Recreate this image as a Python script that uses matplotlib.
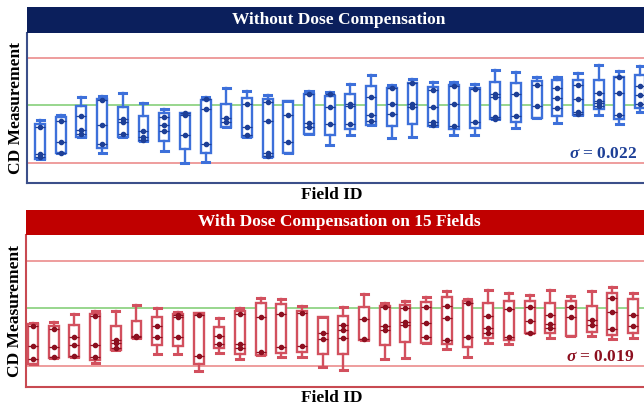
import matplotlib
matplotlib.use("Agg")
import matplotlib.pyplot as plt
import numpy as np

# CD values per field (normalised, target = 1.000)
fields = list(range(1, 31))

top_hi = [0.970, 0.980, 1.016, 1.018, 1.024, 1.004, 0.992, 0.984, 1.016, 1.034, 1.028, 1.020, 1.008, 1.028, 1.026,
          1.042, 1.060, 1.040, 1.052, 1.046, 1.046, 1.042, 1.070, 1.066, 1.056, 1.056, 1.064, 1.080, 1.068, 1.078]
top_q3 = [0.962, 0.976, 0.998, 1.012, 0.996, 0.978, 0.984, 0.984, 1.010, 1.002, 1.014, 1.012, 1.008, 1.022, 1.018,
          1.022, 1.038, 1.034, 1.044, 1.036, 1.040, 1.034, 1.046, 1.044, 1.048, 1.050, 1.050, 1.050, 1.056, 1.060]
top_q1 = [0.892, 0.904, 0.936, 0.914, 0.936, 0.928, 0.928, 0.912, 0.904, 0.956, 0.936, 0.896, 0.904, 0.942, 0.940,
          0.952, 0.960, 0.958, 0.962, 0.958, 0.952, 0.954, 0.972, 0.966, 0.974, 0.978, 0.980, 0.992, 0.972, 0.994]
top_lo = [0.892, 0.904, 0.936, 0.904, 0.936, 0.928, 0.908, 0.884, 0.886, 0.956, 0.936, 0.896, 0.904, 0.942, 0.920,
          0.940, 0.960, 0.934, 0.936, 0.958, 0.940, 0.940, 0.972, 0.954, 0.974, 0.964, 0.980, 0.980, 0.962, 0.986]
top_pts = [
    [0.956, 0.902, 0.896], [0.968, 0.926, 0.904], [0.978, 0.950, 0.942], [1.010, 0.960, 0.922],
    [0.972, 0.966, 0.942], [0.948, 0.936, 0.930], [0.976, 0.960, 0.948], [0.984, 0.980, 0.940],
    [1.012, 0.992, 0.922], [0.974, 0.966], [1.002, 0.956, 0.940], [1.006, 0.968, 0.904, 0.898],
    [0.980, 0.926], [1.022, 0.964, 0.956], [1.022, 0.996, 0.962], [1.002, 0.998, 0.962],
    [1.016, 0.980, 0.968], [1.034, 1.002, 0.982], [1.044, 1.002, 0.996], [1.030, 0.996, 0.966, 0.960],
    [1.038, 1.002, 0.958], [1.032, 0.966], [1.022, 1.016, 0.976, 0.972], [1.022, 0.978],
    [1.040, 0.998], [1.034, 1.014, 0.994], [1.040, 1.012, 0.986, 0.982], [1.024, 1.008, 1.004, 0.998],
    [1.056, 1.024, 0.980], [1.038, 1.020, 1.002],
]

bot_hi = [0.970, 0.972, 0.988, 0.994, 0.994, 1.006, 1.000, 0.992, 0.990, 0.980, 1.000, 1.020, 1.018, 1.004, 0.982,
          1.002, 1.028, 1.010, 1.014, 1.022, 1.034, 1.018, 1.036, 1.030, 1.026, 1.036, 1.024, 1.034, 1.042, 1.030]
bot_q3 = [0.968, 0.964, 0.966, 0.988, 0.964, 0.974, 0.982, 0.988, 0.990, 0.962, 0.994, 1.010, 1.008, 0.994, 0.982,
          0.984, 1.002, 1.004, 1.006, 1.012, 1.022, 1.014, 1.010, 1.014, 1.014, 1.010, 1.014, 1.004, 1.030, 1.018]
bot_q1 = [0.888, 0.900, 0.902, 0.896, 0.916, 0.940, 0.926, 0.924, 0.888, 0.920, 0.908, 0.906, 0.910, 0.912, 0.908,
          0.908, 0.936, 0.926, 0.932, 0.930, 0.928, 0.922, 0.940, 0.936, 0.950, 0.950, 0.944, 0.952, 0.946, 0.950]
bot_lo = [0.888, 0.900, 0.902, 0.890, 0.916, 0.940, 0.908, 0.908, 0.874, 0.910, 0.898, 0.906, 0.902, 0.902, 0.882,
          0.876, 0.936, 0.898, 0.900, 0.930, 0.918, 0.902, 0.930, 0.928, 0.950, 0.940, 0.944, 0.944, 0.938, 0.940]
bot_pts = [
    [0.964, 0.924, 0.898], [0.958, 0.922, 0.902], [0.942, 0.926, 0.904], [0.984, 0.926, 0.902],
    [0.936, 0.930, 0.920], [0.944, 0.942], [0.964, 0.942], [0.986, 0.982, 0.942],
    [0.986, 0.904], [0.944, 0.928], [0.988, 0.928, 0.920], [0.982, 0.912],
    [0.988, 0.922], [0.990, 0.924], [0.950, 0.938], [0.966, 0.956, 0.940],
    [0.978, 0.938], [1.002, 0.964, 0.956], [1.000, 0.972, 0.966], [1.002, 0.970, 0.942],
    [1.004, 0.980, 0.936], [1.010, 0.942], [0.984, 0.960, 0.950], [0.998, 0.942],
    [1.002, 0.974, 0.950], [0.986, 0.968, 0.960], [1.002, 0.982], [0.976, 0.966],
    [1.020, 0.992, 0.958], [0.986, 0.964],
]

target = 1.000
upper_limit = 1.094
lower_limit = 0.884

plt.rcParams['font.family'] = ['Liberation Serif', 'DejaVu Serif']
plt.rcParams['mathtext.fontset'] = 'custom'
plt.rcParams['mathtext.it'] = 'Liberation Serif:italic:bold'

fig = plt.figure(figsize=(6.44, 4.09), dpi=100)
H = 409.0
W = 644.0


def panel(ax_box, bar_box, title, sigma, hi, q3, q1, lo, pts, c_box, c_dot, c_bar, c_frame, xlim, ylim, sig_xy):
    ax = fig.add_axes(ax_box)
    stats = []
    for i in range(len(hi)):
        stats.append(dict(whislo=lo[i], q1=q1[i], med=np.median(pts[i]), q3=q3[i], whishi=hi[i]))
    ax.bxp(stats, positions=fields, widths=0.48, showfliers=False, patch_artist=True,
           boxprops=dict(facecolor='white', edgecolor=c_box, linewidth=1.7),
           whiskerprops=dict(color=c_box, linewidth=1.7),
           capprops=dict(color=c_box, linewidth=2.2), capwidths=0.34,
           medianprops=dict(linewidth=0), zorder=3)
    # data points
    for i, p in enumerate(pts):
        x = [fields[i]] * len(p)
        ax.plot(x, p, linestyle='none', marker='o', ms=3.0, color=c_dot, zorder=4)
        ax.plot(x, p, linestyle='none', marker='_', ms=7, mew=0.9, color=c_dot, zorder=4)
    ax.axhline(upper_limit, color='#eb8c8c', lw=1.2, zorder=1)
    ax.axhline(lower_limit, color='#eb8c8c', lw=1.2, zorder=1)
    ax.axhline(target, color='#86cf7a', lw=1.2, zorder=1)
    ax.set_xlim(*xlim)
    ax.set_ylim(*ylim)
    ax.set_xticks([])
    ax.set_yticks([])
    for s in ['top', 'right']:
        ax.spines[s].set_visible(False)
    for s in ['left', 'bottom']:
        ax.spines[s].set_color(c_frame)
        ax.spines[s].set_linewidth(1.5)
    ax.set_ylabel('CD Measurement', fontsize=12.5, fontweight='bold', labelpad=2)
    ax.text(sig_xy[0], sig_xy[1], r'$\sigma$ = ' + sigma, transform=ax.transAxes, ha='right', va='center',
            fontsize=12.5, fontweight='bold', color=c_dot)

    # title bar
    bar = fig.add_axes(bar_box)
    bar.set_facecolor(c_bar)
    bar.set_xticks([])
    bar.set_yticks([])
    for s in bar.spines.values():
        s.set_visible(False)
    fig.text(339 / W, bar_box[1] + bar_box[3] / 2, title, ha='center', va='center', color='white',
             fontsize=12.5, fontweight='bold')
    return ax


panel([27 / W, (H - 183) / H, 1 - 27 / W, 150 / H], [27 / W, (H - 33) / H, 1 - 27 / W, 26 / H],
      'Without Dose Compensation', '0.022', top_hi, top_q3, top_q1, top_lo, top_pts,
      '#3d70da', '#1d3f96', '#0b1f5c', '#3b4f8a', (0.37, 30.19), (0.844, 1.144), (0.990, 0.19))
panel([26 / W, (H - 387) / H, 1 - 26 / W, 152 / H], [26 / W, (H - 235) / H, 1 - 26 / W, 25 / H],
      'With Dose Compensation on 15 Fields', '0.019', bot_hi, bot_q3, bot_q1, bot_lo, bot_pts,
      '#d2505e', '#8c0f1f', '#c00000', '#c84a52', (0.66, 30.53), (0.842, 1.146), (0.984, 0.20))

fig.text(332 / W, (H - 195) / H, 'Field ID', ha='center', va='center', fontsize=12.5, fontweight='bold')
fig.text(332 / W, (H - 398) / H, 'Field ID', ha='center', va='center', fontsize=12.5, fontweight='bold')

fig.savefig('out.png', dpi=100)
